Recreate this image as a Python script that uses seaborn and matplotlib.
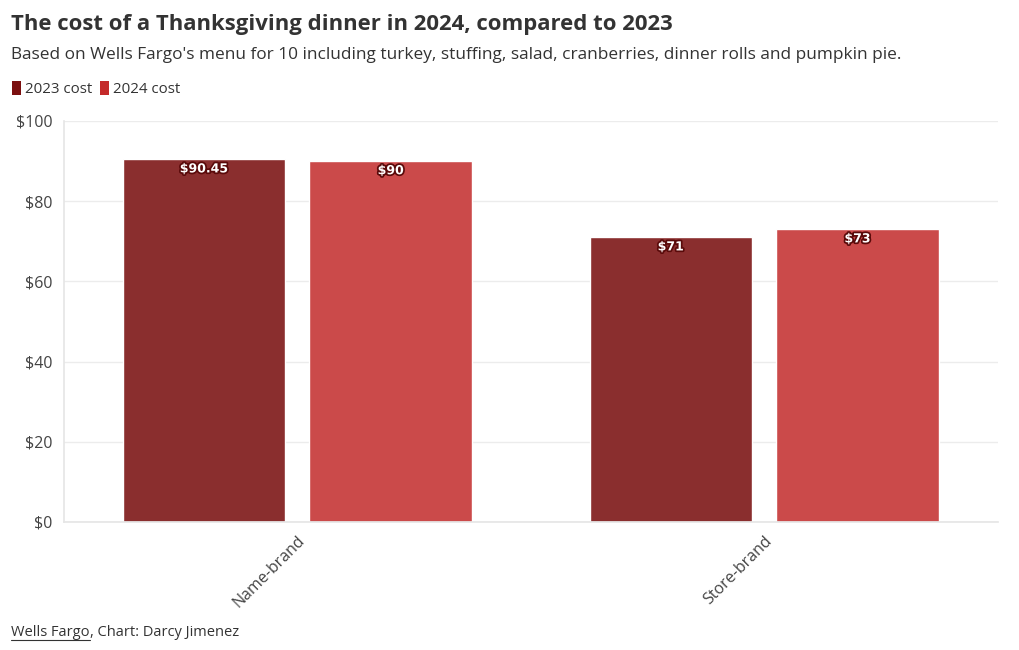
import matplotlib
matplotlib.use("Agg")
import matplotlib.pyplot as plt
import matplotlib.patheffects as pe
from matplotlib.patches import Patch
from matplotlib.lines import Line2D
import seaborn as sns
import pandas as pd

# data
brands = ["Name-brand", "Store-brand"]
cost_2023 = [90.45, 71]
cost_2024 = [90, 73]
label_2023 = ["$90.45", "$71"]
label_2024 = ["$90", "$73"]
series = ["2023 cost", "2024 cost"]
yticks = [0, 20, 40, 60, 80, 100]

bar_colors = ["#8a2e2e", "#cb4a4a"]
legend_colors = ["#7b0f0f", "#c42a2a"]
text_color = "#333333"

df = pd.DataFrame({
    "brand": brands * 2,
    "series": [series[0]] * len(brands) + [series[1]] * len(brands),
    "cost": cost_2023 + cost_2024,
    "label": label_2023 + label_2024,
})

sns.set_theme(style="white")
plt.rcParams["font.family"] = ["Open Sans", "DejaVu Sans"]

fig = plt.figure(figsize=(10.2, 6.5), dpi=100)
ax = fig.add_axes([0.0627, 0.197, 0.9153, 0.617])

sns.barplot(data=df, x="brand", y="cost", hue="series", order=brands,
            hue_order=series, palette=bar_colors, width=0.8, gap=0.13,
            saturation=1, legend=False, ax=ax)

# value labels inside the top of each bar
for container, labels in zip(ax.containers, [label_2023, label_2024]):
    for bar, lab in zip(container, labels):
        ax.annotate(lab, (bar.get_x() + bar.get_width() / 2, bar.get_height()),
                    xytext=(0, -7), textcoords="offset points",
                    ha="center", va="center", fontsize=9, fontweight="bold",
                    color="white", family="DejaVu Sans",
                    path_effects=[pe.withStroke(linewidth=2.5, foreground="#5a0a0a")])

ax.set_xlim(-0.5, 1.5)
ax.set_ylim(0, 100)
ax.set_yticks(yticks)
ax.set_yticklabels([f"${v}" for v in yticks], fontsize=11.5, color="#444444")
ax.set_xticks(range(len(brands)))
ax.set_xticklabels(brands, rotation=45, ha="right", rotation_mode="anchor",
                   fontsize=11.5, color="#444444")
ax.tick_params(axis="x", length=0, pad=8)
ax.tick_params(axis="y", length=6, color="#e6e6e6", pad=2)
ax.set_xlabel("")
ax.set_ylabel("")
ax.grid(axis="y", color="#ececec", linewidth=1)
ax.set_axisbelow(True)
for side in ["top", "right"]:
    ax.spines[side].set_visible(False)
ax.spines["left"].set_color("#e6e6e6")
ax.spines["bottom"].set_color("#e6e6e6")

# titles
fig.text(0.011, 0.963, "The cost of a Thanksgiving dinner in 2024, compared to 2023",
         fontsize=15.9, fontweight="bold", color=text_color, va="center")
fig.text(0.011, 0.916, "Based on Wells Fargo's menu for 10 including turkey, stuffing, salad, "
         "cranberries, dinner rolls and pumpkin pie.",
         fontsize=12.4, color=text_color, va="center")

# legend
handles = [Patch(facecolor=c, edgecolor="none") for c in legend_colors]
fig.legend(handles, series, loc="center left", bbox_to_anchor=(-0.001, 0.863),
           ncol=2, frameon=False, fontsize=10.8, handlelength=0.6, handleheight=1.1,
           handletextpad=0.25, columnspacing=0.5, labelcolor=text_color)

# source line with underlined link text
src = fig.text(0.011, 0.022, "Wells Fargo", fontsize=10.5, color=text_color, va="baseline")
fig.canvas.draw()
bb = src.get_window_extent().transformed(fig.transFigure.inverted())
fig.text(bb.x1, 0.022, ", Chart: Darcy Jimenez", fontsize=10.5, color=text_color,
         va="baseline")
fig.add_artist(Line2D([bb.x0, bb.x1], [0.016, 0.016], transform=fig.transFigure,
                      color=text_color, linewidth=0.8))

fig.savefig("out.png", dpi=100, facecolor="white")
